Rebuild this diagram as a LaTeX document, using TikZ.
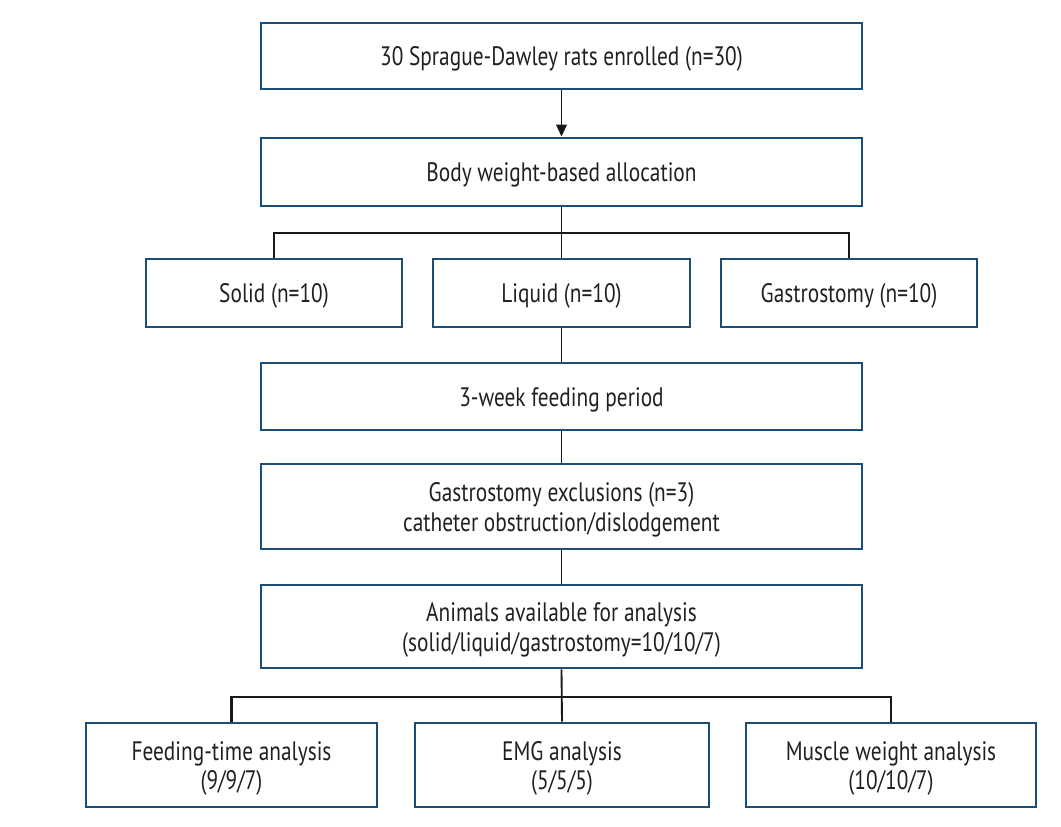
\documentclass[tikz,border=0pt]{standalone}
\usepackage{fontspec}
\setmainfont[FakeStretch=0.80]{PT Sans}
\usetikzlibrary{arrows.meta}
\definecolor{boxblue}{HTML}{1B4F78}
\definecolor{txt}{HTML}{231F20}
\begin{document}
\begin{tikzpicture}[x=0.75pt,y=-0.75pt,
  box/.style={draw=boxblue,line width=2.2pt,fill=white,inner sep=0pt,align=center,
    text=txt,font=\fontsize{20}{22}\selectfont},
  conn/.style={draw=black!90,line width=1.4pt},
  bar/.style={draw=black!90,line width=2pt}]
\useasboundingbox (0,0) rectangle (1061,827);
\newcommand\bx[6]{\node[box,minimum width={(#4-#2)*0.75pt},minimum height={(#5-#3)*0.75pt}] (#1) at ({(#2+#4)/2},{(#3+#5)/2}) {\raisebox{-3pt}[\height][\depth]{\begin{tabular}{@{}c@{}}#6\end{tabular}}};}
\bx{enr}{261}{23}{862}{89}{30 Sprague-Dawley rats enrolled (n=30)}
\bx{alloc}{261}{138}{862}{206}{Body weight-based allocation}
\bx{solid}{146}{259}{402}{327}{Solid (n=10)}
\bx{liquid}{433}{259}{690}{327}{Liquid (n=10)}
\bx{gastro}{721}{259}{977}{327}{Gastrostomy (n=10)}
\bx{feed}{261}{363}{862}{430}{3-week feeding period}
\bx{excl}{261}{464}{862}{549}{Gastrostomy exclusions (n=3)\\catheter obstruction/dislodgement}
\bx{avail}{261}{585}{862}{668}{Animals available for analysis\\(solid/liquid/gastrostomy=10/10/7)}
\bx{ftime}{86}{723}{377}{807}{Feeding-time analysis\\(9/9/7)}
\bx{emg}{415}{723}{709}{807}{EMG analysis\\(5/5/5)}
\bx{mus}{746}{723}{1036}{807}{Muscle weight analysis\\(10/10/7)}
\coordinate (b1) at (562,233);
\coordinate (b2) at (562,697);
\draw[conn,-{Triangle[length=9pt,width=8pt]}] (enr.south) -- (alloc.north);
\draw[conn] (alloc.south) -- (liquid.north);
\draw[bar] (solid.north) |- (b1) -| (gastro.north);
\draw[conn] (liquid.south) -- (feed.north);
\draw[conn] (feed.south) -- (excl.north);
\draw[conn] (excl.south) -- (avail.north);
\draw[conn] (avail.south) -- (emg.north);
\draw[bar] (ftime.north) |- (b2) -| (mus.north);
\end{tikzpicture}
\end{document}
